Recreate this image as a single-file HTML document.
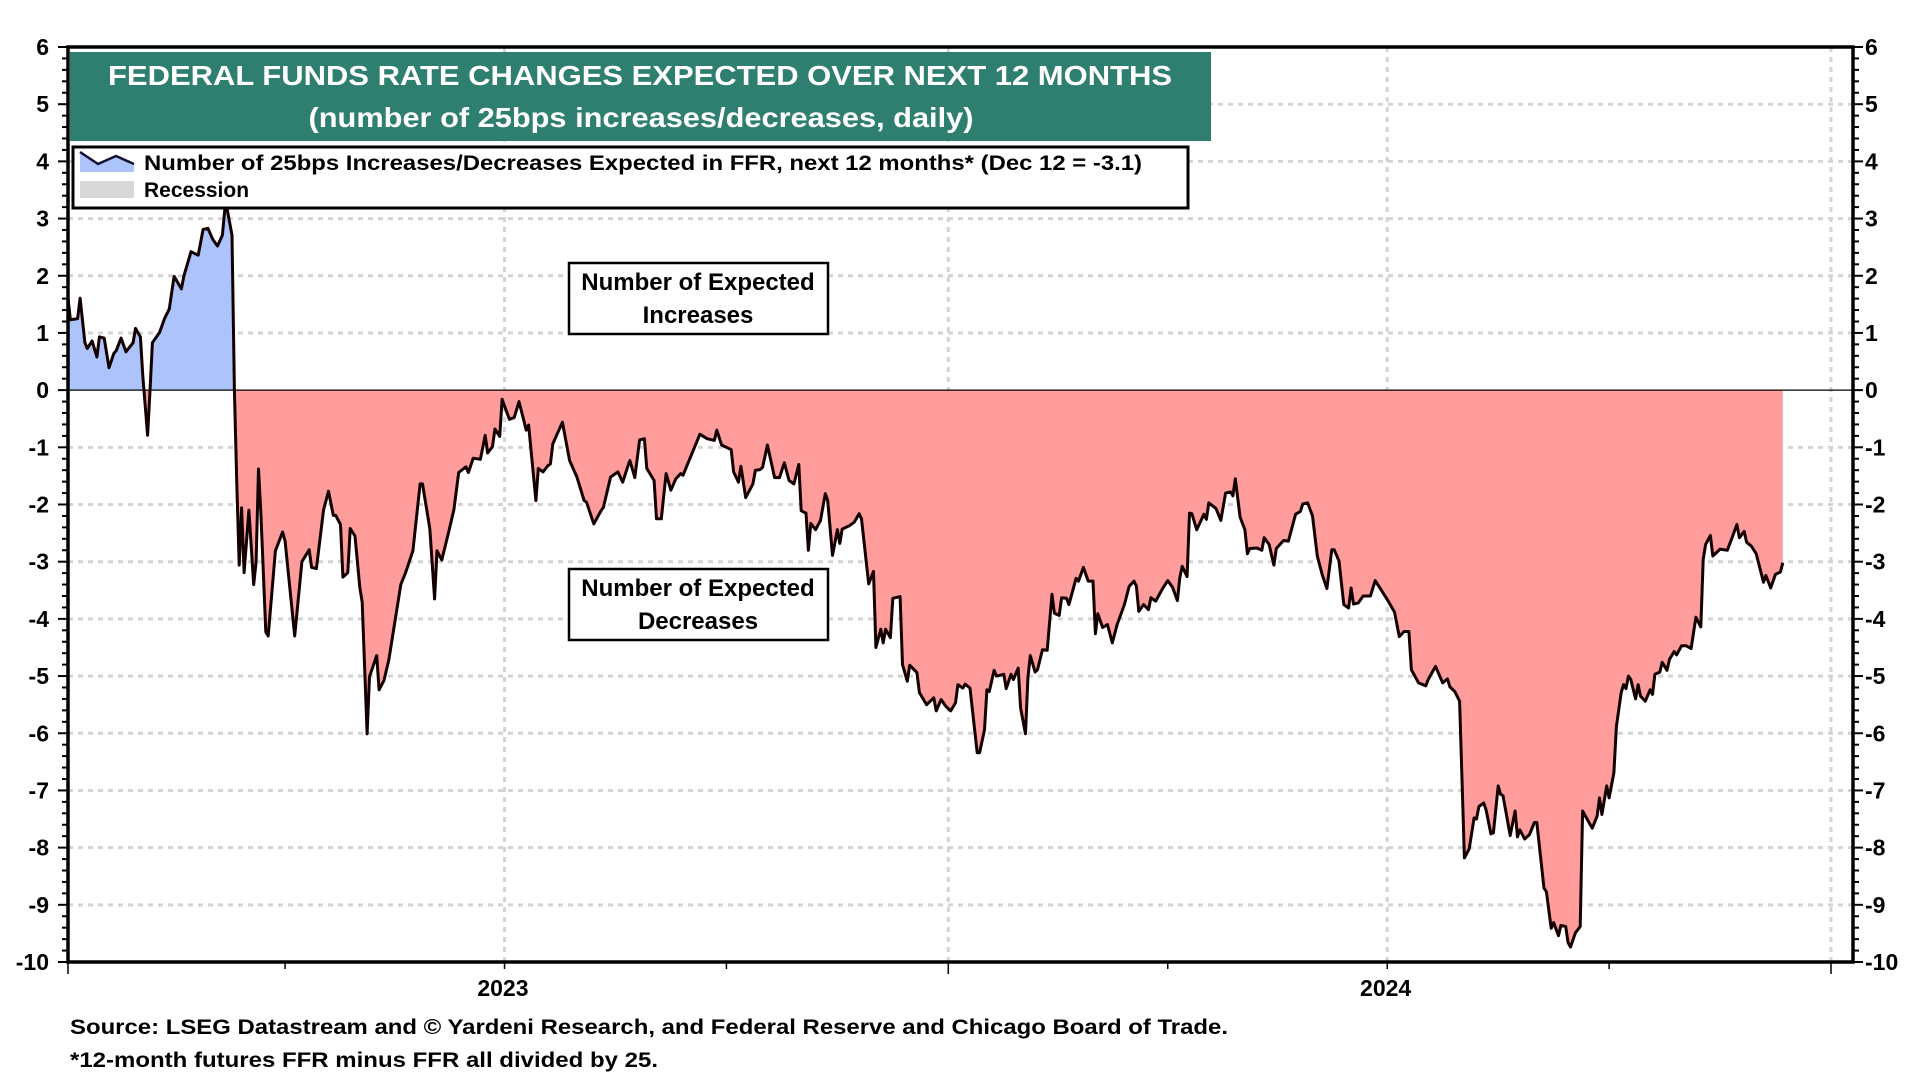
<!DOCTYPE html>
<html><head><meta charset="utf-8"><style>
html,body{margin:0;padding:0;background:#fff;}
svg{display:block;font-family:"Liberation Sans",Arial,sans-serif;font-weight:bold;}
</style></head><body>
<svg id="chart" width="1920" height="1080" viewBox="0 0 1920 1080" xmlns="http://www.w3.org/2000/svg">
<defs>
<clipPath id="clipAbove"><rect id="ca" x="60" y="40" width="1800" height="350"/></clipPath>
<clipPath id="clipBelow"><rect id="cb" x="60" y="390" width="1800" height="600"/></clipPath>
</defs>
<g id="grid"></g>
<g id="series"></g>
<g id="axes"></g>
</svg>
<script>
// ---- data ----
const startDate = "2023-01-01";
const days = [0,1,4,5,7,8,10,12,13,15,17,19,20,22,24,27,28,30,31,33,34,35,38,40,42,44,47,48,51,54,56,58,60,62,64,65,66,68,69,70,71,72,73,75,77,78,79,80,82,83,86,89,90,94,97,100,101,103,106,108,110,111,113,114,116,117,119,121,122,124,125,128,129,131,133,138,140,143,146,147,150,152,153,155,158,160,162,165,166,168,171,173,174,176,177,179,180,183,185,187,189,190,191,194,195,197,199,200,201,205,208,211,214,215,218,221,222,225,228,230,232,233,235,237,239,240,243,244,246,248,250,252,254,255,262,265,268,269,271,275,276,278,279,281,284,285,287,288,290,293,295,297,299,301,303,304,306,307,308,310,312,314,315,317,319,320,321,324,326,328,329,332,334,335,337,338,339,341,342,345,346,348,349,352,353,356,359,360,362,364,366,368,369,371,372,374,377,378,380,381,382,384,385,388,389,391,392,394,395,397,398,399,401,402,404,406,408,409,411,412,414,415,418,419,421,423,425,426,427,429,431,433,435,438,440,442,443,444,446,448,449,451,454,456,458,460,461,462,464,465,466,468,471,472,473,476,478,480,482,483,484,486,488,489,490,493,495,496,498,500,501,504,506,509,511,512,514,516,518,520,522,524,525,527,529,531,532,533,535,537,540,542,547,550,552,554,556,557,560,563,564,567,570,572,573,575,577,579,581,583,584,585,587,588,590,591,593,594,595,598,600,601,602,604,606,608,609,612,613,615,616,618,619,621,622,623,625,627,628,630,632,634,635,636,638,639,641,642,644,645,646,647,648,650,651,652,654,656,657,658,660,661,663,664,666,667,669,671,673,675,677,678,679,681,682,685,688,690,692,693,695,696,698,700,703,704,706,708,710,711];
const values = [1.61,1.23,1.25,1.61,0.83,0.73,0.86,0.58,0.93,0.91,0.39,0.64,0.69,0.91,0.67,0.83,1.08,0.93,0.25,-0.79,-0.01,0.83,1.01,1.25,1.42,1.99,1.77,1.99,2.42,2.36,2.81,2.83,2.64,2.52,2.71,3.16,3.16,2.71,0,-1.64,-3.06,-2.06,-3.19,-2.10,-3.40,-3.0,-1.38,-2.16,-4.23,-4.30,-2.81,-2.48,-2.64,-4.30,-3.0,-2.79,-3.10,-3.12,-2.09,-1.77,-2.19,-2.19,-2.35,-3.27,-3.19,-2.42,-2.55,-3.45,-3.71,-6.01,-5.01,-4.64,-5.24,-5.08,-4.72,-3.40,-3.19,-2.81,-1.64,-1.64,-2.42,-3.65,-2.81,-2.97,-2.45,-2.09,-1.44,-1.34,-1.44,-1.19,-1.21,-0.79,-1.10,-0.99,-0.68,-0.81,-0.16,-0.51,-0.48,-0.20,-0.53,-0.70,-0.61,-1.93,-1.37,-1.43,-1.32,-1.29,-0.94,-0.56,-1.23,-1.52,-1.93,-1.96,-2.34,-2.11,-2.05,-1.52,-1.43,-1.61,-1.35,-1.23,-1.53,-0.87,-0.85,-1.37,-1.58,-2.25,-2.25,-1.46,-1.75,-1.55,-1.46,-1.49,-0.77,-0.85,-0.88,-0.70,-0.96,-1.04,-1.43,-1.61,-1.33,-1.88,-1.64,-1.40,-1.39,-1.35,-0.96,-1.53,-1.53,-1.27,-1.58,-1.64,-1.30,-2.11,-2.15,-2.80,-2.33,-2.44,-2.28,-1.81,-1.93,-2.89,-2.44,-2.68,-2.43,-2.37,-2.31,-2.16,-2.25,-3.39,-3.17,-4.50,-4.18,-4.42,-4.18,-4.33,-3.64,-3.61,-4.80,-5.09,-4.81,-4.94,-5.29,-5.50,-5.38,-5.61,-5.41,-5.53,-5.61,-5.47,-5.15,-5.21,-5.14,-5.21,-6.34,-6.34,-5.94,-5.24,-5.27,-4.90,-5.00,-4.97,-5.22,-4.97,-5.06,-4.86,-5.56,-6.01,-5.03,-4.64,-4.93,-4.89,-4.54,-4.55,-3.57,-3.90,-3.94,-3.63,-3.64,-3.75,-3.29,-3.34,-3.10,-3.34,-3.34,-4.26,-3.91,-4.15,-4.10,-4.42,-4.10,-3.75,-3.43,-3.34,-3.43,-3.87,-3.75,-3.84,-3.63,-3.69,-3.46,-3.33,-3.45,-3.68,-3.28,-3.08,-3.26,-2.15,-2.16,-2.44,-2.17,-2.26,-1.97,-2.07,-2.28,-1.80,-1.78,-1.85,-1.55,-2.22,-2.44,-2.86,-2.77,-2.76,-2.80,-2.58,-2.70,-3.06,-2.77,-2.63,-2.64,-2.17,-2.12,-1.99,-1.97,-2.20,-2.90,-3.22,-3.47,-2.79,-2.79,-2.99,-3.75,-3.81,-3.46,-3.74,-3.72,-3.60,-3.60,-3.33,-3.66,-3.88,-4.31,-4.22,-4.22,-4.89,-5.12,-5.17,-5.06,-4.83,-5.12,-5.05,-5.19,-5.27,-5.44,-8.18,-8.02,-7.48,-7.50,-7.28,-7.22,-7.34,-7.76,-7.74,-6.92,-7.07,-7.09,-7.79,-7.36,-7.81,-7.69,-7.85,-7.77,-7.56,-7.56,-8.71,-8.77,-9.41,-9.31,-9.54,-9.36,-9.38,-9.66,-9.74,-9.49,-9.38,-7.36,-7.51,-7.66,-7.45,-7.13,-7.42,-6.92,-7.13,-6.69,-5.88,-5.29,-5.15,-5.22,-5.00,-5.06,-5.40,-5.15,-5.35,-5.44,-5.24,-5.32,-4.97,-4.93,-4.76,-4.90,-4.71,-4.57,-4.63,-4.47,-4.47,-4.52,-3.97,-4.14,-2.96,-2.70,-2.54,-2.90,-2.78,-2.80,-2.58,-2.35,-2.58,-2.47,-2.66,-2.73,-2.86,-3.36,-3.24,-3.46,-3.22,-3.18,-3.02,-3.10];
const yTicks = [6,5,4,3,2,1,0,-1,-2,-3,-4,-5,-6,-7,-8,-9,-10];
const yearLabels = ["2023","2024"];
const yearMidDays = [182,548];
const halfYearDays = [181,365,547,731];
const quarterDays = [0,90,181,273,365,456,547,639,731];

// ---- scales ----
const X0=68, X1=1853, Y0=47, Y1=962;
const dayToX = d => 68 + d*(1831-68)/731;
const yMin=-10, yMax=6;
const yScale = v => Y0 + (yMax - v)*(Y1-Y0)/(yMax-yMin);
const NS="http://www.w3.org/2000/svg";
function mk(tag, attrs, parent){const e=document.createElementNS(NS,tag);for(const k in attrs)e.setAttribute(k,attrs[k]);parent.appendChild(e);return e;}
const grid=document.getElementById('grid');
const series=document.getElementById('series');
const axes=document.getElementById('axes');
const y0=yScale(0);
document.getElementById('ca').setAttribute('height', y0-40);
document.getElementById('cb').setAttribute('y', y0);

yTicks.forEach(t=>{
  if(t===0||t===6||t===-10) return;
  const g=mk('line',{x1:X0,x2:X1,y1:yScale(t),y2:yScale(t),stroke:'#d4d4d4','stroke-width':3,'stroke-dasharray':'5 5'},grid);
  
  
});
halfYearDays.forEach(d=>{
  const g=mk('line',{x1:dayToX(d),x2:dayToX(d),y1:Y0,y2:Y1,stroke:'#d4d4d4','stroke-width':3,'stroke-dasharray':'5 5'},grid);
  
  
});

let line='', area='M'+dayToX(days[0]).toFixed(1)+','+y0;
for(let i=0;i<days.length;i++){
  const p=dayToX(days[i]).toFixed(1)+','+yScale(values[i]).toFixed(1);
  line+=(i?'L':'M')+p; area+='L'+p;
}
area+='L'+dayToX(days[days.length-1]).toFixed(1)+','+y0+'Z';
const pos=mk('path',{d:area,fill:'#adc3fb','clip-path':'url(#clipAbove)'},series);


const neg=mk('path',{d:area,fill:'#ff9c9c','clip-path':'url(#clipBelow)'},series);


const zl=mk('line',{x1:X0,x2:X1,y1:y0,y2:y0,stroke:'#000','stroke-width':1.2},series);


const ln=mk('path',{d:line,fill:'none',stroke:'#140000','stroke-width':3,'stroke-linejoin':'round'},series);



const fr=mk('rect',{x:X0,y:Y0,width:X1-X0,height:Y1-Y0,fill:'none',stroke:'#000','stroke-width':3.5},axes);


for(let v=yMin; v<=yMax+0.001; v+=0.2){
  const major=Math.abs(v-Math.round(v))<0.01;
  const y=yScale(v), L=major?10:6;
  mk('line',{x1:X0-L,x2:X0,y1:y,y2:y,stroke:'#000','stroke-width':2},axes);
  mk('line',{x1:X1,x2:X1+L,y1:y,y2:y,stroke:'#000','stroke-width':2},axes);
}
yTicks.forEach(t=>{
  const a=mk('text',{x:49,y:yScale(t)+8,'text-anchor':'end','font-size':23},axes);
  a.textContent=String(t);
  
  
  const b=mk('text',{x:1865,y:yScale(t)+8,'text-anchor':'start','font-size':23},axes);
  b.textContent=String(t);
  
  
});
quarterDays.forEach(d=>{
  const major=(d===0||d===365||d===731);
  mk('line',{x1:dayToX(d),x2:dayToX(d),y1:Y1,y2:Y1+(major?12:7),stroke:'#000','stroke-width':1.5},axes);
});
yearLabels.forEach((l,i)=>{
  const t=mk('text',{x:dayToX(yearMidDays[i])-4,y:996,'text-anchor':'middle','font-size':23},axes);
  t.textContent=l;
  
  
});
</script>
<svg width="1920" height="1080" viewBox="0 0 1920 1080" style="position:absolute;left:0;top:0" xmlns="http://www.w3.org/2000/svg">
<g>
<rect x="70" y="52" width="1141" height="89" fill="#2e7f6f"/>
<text x="640" y="85" text-anchor="middle" fill="#fff" font-size="28" font-weight="bold" font-family="Liberation Sans, sans-serif" textLength="1064" lengthAdjust="spacingAndGlyphs">FEDERAL FUNDS RATE CHANGES EXPECTED OVER NEXT 12 MONTHS</text>
<text x="641" y="127" text-anchor="middle" fill="#fff" font-size="28" font-weight="bold" font-family="Liberation Sans, sans-serif" textLength="665" lengthAdjust="spacingAndGlyphs">(number of 25bps increases/decreases, daily)</text>
</g>
<g>
<rect x="73" y="147" width="1115" height="61" fill="#fff" stroke="#000" stroke-width="3"/>
<path d="M80,152 L98,164 L116,156 L134,164 L134,172 L80,172 Z" fill="#adc3fb"/>
<path d="M80,152 L98,164 L116,156 L134,164" fill="none" stroke="#101030" stroke-width="2.5"/>
<rect x="80" y="181" width="54" height="17" fill="#d8d8d8"/>
<text x="144" y="170" font-size="21" font-weight="bold" font-family="Liberation Sans, sans-serif" textLength="998" lengthAdjust="spacingAndGlyphs">Number of 25bps Increases/Decreases Expected in FFR, next 12 months* (Dec 12 = -3.1)</text>
<text x="144" y="197" font-size="21" font-weight="bold" font-family="Liberation Sans, sans-serif">Recession</text>
</g>
<g>
<rect x="569" y="263" width="259" height="71" fill="#fff" stroke="#000" stroke-width="2.5"/>
<text x="698" y="290" text-anchor="middle" font-size="24" font-weight="bold" font-family="Liberation Sans, sans-serif">Number of Expected</text>
<text x="698" y="323" text-anchor="middle" font-size="24" font-weight="bold" font-family="Liberation Sans, sans-serif">Increases</text>
</g>
<g>
<rect x="569" y="569" width="259" height="71" fill="#fff" stroke="#000" stroke-width="2.5"/>
<text x="698" y="596" text-anchor="middle" font-size="24" font-weight="bold" font-family="Liberation Sans, sans-serif">Number of Expected</text>
<text x="698" y="629" text-anchor="middle" font-size="24" font-weight="bold" font-family="Liberation Sans, sans-serif">Decreases</text>
</g>
<text x="70" y="1034" font-size="21" font-weight="bold" font-family="Liberation Sans, sans-serif" textLength="1158" lengthAdjust="spacingAndGlyphs">Source: LSEG Datastream and © Yardeni Research, and Federal Reserve and Chicago Board of Trade.</text>
<text x="70" y="1067" font-size="21" font-weight="bold" font-family="Liberation Sans, sans-serif" textLength="588" lengthAdjust="spacingAndGlyphs">*12-month futures FFR minus FFR all divided by 25.</text>
</svg>
</body></html>
